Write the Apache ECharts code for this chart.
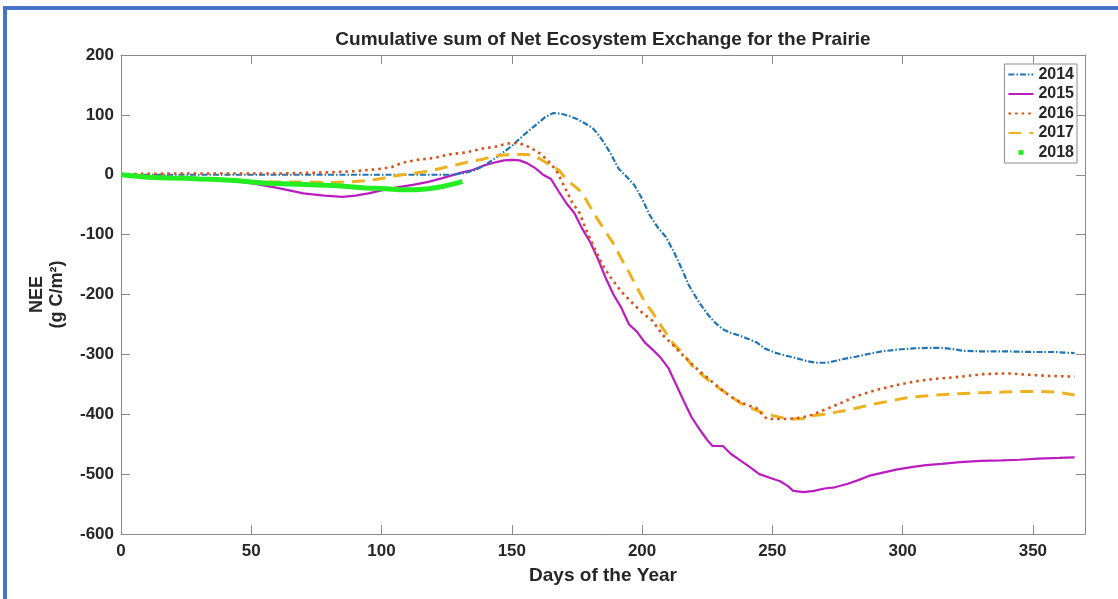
<!DOCTYPE html>
<html>
<head>
<meta charset="utf-8">
<script src="https://cdn.jsdelivr.net/npm/echarts@6/dist/echarts.min.js"></script>
<style>
  html, body { margin: 0; padding: 0; background: #fff; }
  #chart { position: absolute; left: 0; top: 0; width: 1118px; height: 599px; }
  #frame { position: absolute; left: 3px; top: 6px; width: 1300px; height: 800px;
           border-left: 4px solid #4674c9; border-top: 4px solid #4674c9; pointer-events: none; }
</style>
</head>
<body>
<div id="chart"></div>
<div id="frame"></div>
<script>
// ---- data ----
const seriesNames = ['2014', '2015', '2016', '2017', '2018'];
const xTicks = [0, 50, 100, 150, 200, 250, 300, 350];
const yTicks = [-600, -500, -400, -300, -200, -100, 0, 100, 200];

const days2014 = [0,30,60,90,110,127,132,136,140,145,150,155,160,163,166,169,172,175,178,181,183,185,188,191,194,197,200,203,206,209,212,215,218,222,225,228,231,234,237,240,244,247,251,255,259,263,267,271,274,278,282,286,292,298,304,310,315,319,323,330,340,350,358,366];
const nee2014  = [0,0,0,0,0,0,3,8,17,32,48,68,86,97,103,102,98,93,86,78,68,56,35,10,-3,-17,-40,-68,-88,-103,-127,-155,-185,-214,-232,-247,-258,-264,-268,-273,-280,-290,-297,-302,-306,-311,-314,-314,-311,-307,-304,-300,-295,-292,-290,-289,-289,-291,-294,-295,-295,-296,-296,-298];

const days2015 = [0,10,20,30,40,50,60,70,78,85,90,95,100,106,112,118,123,127,131,135,139,143,147,150,153,156,159,162,165,168,171,174,177,180,183,186,189,192,195,198,201,204,207,210,213,216,219,222,225,227,231,234,237,241,245,249,253,256,258,262,266,270,274,279,283,287,292,298,304,309,315,322,330,338,345,352,360,366];
const nee2015  = [0,-2,-4,-6,-9,-14,-22,-31,-35,-37,-35,-31,-26,-21,-17,-12,-6,-1,4,8,15,20,24,25,24,19,11,0,-7,-28,-48,-64,-90,-112,-140,-172,-200,-222,-250,-262,-280,-292,-305,-322,-350,-378,-405,-425,-443,-453,-453,-466,-475,-487,-500,-506,-512,-520,-528,-530,-528,-524,-522,-516,-510,-503,-498,-492,-488,-485,-483,-480,-478,-477,-476,-474,-473,-472];

const days2016 = [0,20,40,60,70,80,90,100,104,108,114,120,126,132,139,144,148,152,155,158,161,164,167,170,173,176,179,182,185,188,192,196,200,204,208,212,216,220,224,228,232,236,240,244,246,248,252,256,260,264,268,272,277,282,288,293,299,305,312,318,325,331,337,342,348,356,366];
const nee2016  = [1,2,2,2,3,4,6,10,13,20,25,28,34,37,44,47,52,53,50,43,35,23,8,-18,-45,-64,-97,-125,-152,-172,-195,-213,-230,-244,-268,-285,-303,-320,-335,-350,-364,-376,-384,-390,-400,-408,-408,-408,-406,-403,-396,-389,-380,-370,-362,-356,-350,-345,-341,-339,-336,-333,-332,-332,-334,-336,-337];

const days2017 = [0,10,20,30,40,50,60,70,80,88,94,99,105,110,115,120,126,130,134,139,143,147,151,155,158,161,164,168,171,174,177,180,183,186,189,192,195,198,201,204,208,212,216,219,222,226,230,234,238,242,246,250,254,258,262,266,270,275,279,284,289,295,301,307,313,320,330,338,345,352,358,362,366];
const nee2017  = [0,-3,-5,-7,-9,-11,-12,-12,-13,-12,-10,-7,-2,1,4,8,14,18,22,26,31,33,34,34,33,26,18,8,-8,-19,-30,-53,-75,-95,-115,-140,-163,-188,-212,-230,-257,-282,-300,-318,-331,-345,-358,-370,-382,-390,-397,-402,-406,-408,-407,-402,-400,-396,-393,-388,-383,-378,-373,-370,-368,-366,-364,-363,-362,-362,-363,-365,-368];

const days2018 = [0,5,10,18,25,30,37,45,50,56,62,68,75,82,88,94,100,107,113,117,120,123,126,129,131];
const nee2018  = [0,-2,-4,-5.5,-6,-7,-8,-10,-12,-14,-15,-16,-17,-18,-20,-22,-23,-25,-25,-24,-22,-20,-17,-14,-11];

// ---- build ----
const FONT = '"Liberation Sans", Arial, Helvetica, sans-serif';
const AX = '#8a8a8a';
const TXT = '#262626';
function pairs(d, v) { return d.map((x, i) => [x, v[i]]); }

const chart = echarts.init(document.getElementById('chart'), null, { renderer: 'canvas' });

const baseX = {
  type: 'value', min: 0, max: 370, interval: 50,
  axisLine: { show: true, onZero: false, lineStyle: { color: AX, width: 1 } },
  axisTick: { show: true, inside: true, length: 9, lineStyle: { color: AX, width: 1 } },
  splitLine: { show: false }
};
const baseY = {
  type: 'value', min: -600, max: 200, interval: 100,
  axisLine: { show: true, onZero: false, lineStyle: { color: AX, width: 1 } },
  axisTick: { show: true, inside: true, length: 9, lineStyle: { color: AX, width: 1 } },
  splitLine: { show: false }
};

const option = {
  backgroundColor: 'transparent',
  animation: false,
  textStyle: { fontFamily: FONT },
  title: {
    text: 'Cumulative sum of Net Ecosystem Exchange for the Prairie',
    left: 603, top: 30, textAlign: 'center', padding: 0,
    textStyle: { fontFamily: FONT, fontSize: 19, fontWeight: 'bold', color: TXT }
  },
  grid: { left: 121, right: 33, top: 55, bottom: 65, containLabel: false },
  legend: {
    orient: 'vertical', right: 41, top: 64,
    itemWidth: 25, itemHeight: 6, itemGap: 2.5,
    padding: [2, 3, 2, 3],
    borderColor: '#8c8c8c', borderWidth: 1, backgroundColor: '#fff',
    textStyle: { fontFamily: FONT, fontSize: 16, fontWeight: 'bold', color: TXT, lineHeight: 17 },
    data: [
      { name: seriesNames[0], itemStyle: { opacity: 0 } },
      { name: seriesNames[1], itemStyle: { opacity: 0 } },
      { name: seriesNames[2], itemStyle: { opacity: 0 } },
      { name: seriesNames[3], itemStyle: { opacity: 0 } },
      { name: seriesNames[4], lineStyle: { opacity: 0 } }
    ]
  },
  xAxis: [
    Object.assign({}, baseX, {
      position: 'bottom',
      axisLabel: { showMaxLabel: false, fontFamily: FONT, fontSize: 17, fontWeight: 'bold', color: TXT, margin: 9,
                   formatter: v => (xTicks.indexOf(v) >= 0 ? String(v) : '') },
      name: 'Days of the Year', nameLocation: 'middle', nameGap: 32,
      nameTextStyle: { fontFamily: FONT, fontSize: 19, fontWeight: 'bold', color: TXT }
    }),
    Object.assign({}, baseX, { position: 'top', axisLabel: { show: false } })
  ],
  yAxis: [
    Object.assign({}, baseY, {
      position: 'left',
      axisLabel: { fontFamily: FONT, fontSize: 17, fontWeight: 'bold', color: TXT, margin: 7,
                   formatter: v => (yTicks.indexOf(v) >= 0 ? String(v) : '') },
      name: 'NEE\n(g C/m²)', nameLocation: 'middle', nameGap: 54, nameRotate: 90,
      nameTextStyle: { fontFamily: FONT, fontSize: 18, fontWeight: 'bold', color: TXT, lineHeight: 20, align: 'center' }
    }),
    Object.assign({}, baseY, { position: 'right', axisLabel: { show: false } })
  ],
  series: [
    { name: seriesNames[0], type: 'line', xAxisIndex: 0, yAxisIndex: 0, symbol: 'none',
      data: pairs(days2014, nee2014), z: 3,
      lineStyle: { color: '#1f74b6', width: 2.2, type: [6, 2, 1.5, 2] }, itemStyle: { color: '#1f74b6' } },
    { name: seriesNames[1], type: 'line', xAxisIndex: 0, yAxisIndex: 0, symbol: 'none',
      data: pairs(days2015, nee2015), z: 2,
      lineStyle: { color: '#bb1cc0', width: 2.2, type: 'solid' }, itemStyle: { color: '#bb1cc0' } },
    { name: seriesNames[2], type: 'line', xAxisIndex: 0, yAxisIndex: 0, symbol: 'none',
      data: pairs(days2016, nee2016), z: 4,
      lineStyle: { color: '#d95319', width: 2.6, type: [2.6, 4] }, itemStyle: { color: '#d95319' } },
    { name: seriesNames[3], type: 'line', xAxisIndex: 0, yAxisIndex: 0, symbol: 'none',
      data: pairs(days2017, nee2017), z: 3,
      lineStyle: { color: '#edb120', width: 3, type: [13, 8] }, itemStyle: { color: '#edb120' } },
    { name: seriesNames[4], type: 'line', xAxisIndex: 0, yAxisIndex: 0, symbol: 'rect', symbolSize: 5, showSymbol: false,
      data: pairs(days2018, nee2018), z: 5,
      lineStyle: { color: '#22ee22', width: 5, type: 'solid' }, itemStyle: { color: '#22ee22' } }
  ]
};
chart.setOption(option);
</script>
</body>
</html>
